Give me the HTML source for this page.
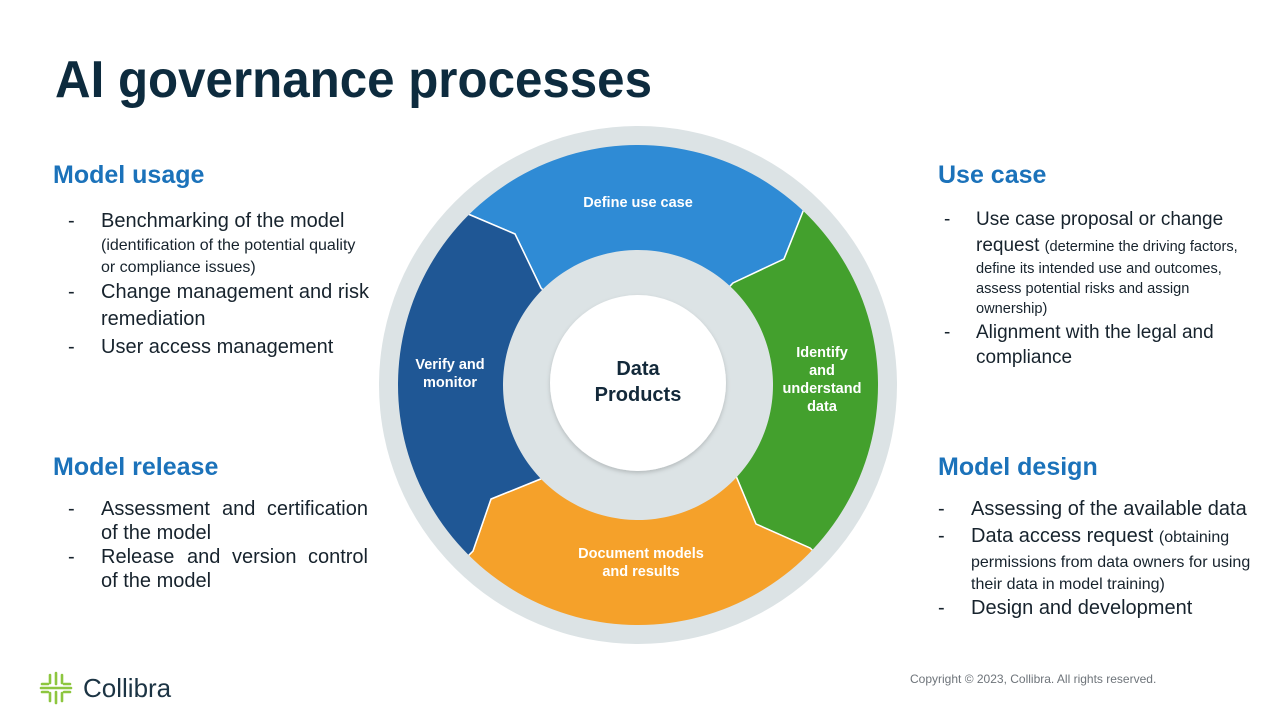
<!DOCTYPE html>
<html><head><meta charset="utf-8"><style>
html,body{margin:0;padding:0;background:#fff;width:1280px;height:720px;overflow:hidden}
svg{display:block;position:absolute;left:0;top:0}
text{font-family:"Liberation Sans",Arial,sans-serif}
.h{font-size:25px;font-weight:bold;fill:#1B72BA}
.b{font-size:20px;fill:#17232D}
.s{font-size:16px;fill:#17232D}
.b2{font-size:19px;fill:#17232D}
.s2{font-size:14.6px;fill:#17232D}
.w{font-size:14.5px;font-weight:bold;fill:#fff}
</style></head><body>
<svg width="1280" height="720" viewBox="0 0 1280 720">
<defs>
<clipPath id="ann"><path clip-rule="evenodd" d="M638,145 a240,240 0 1,0 0.01,0 Z M638,250 a135,135 0 1,0 0.01,0 Z"/></clipPath>
<filter id="sh" x="-20%" y="-20%" width="140%" height="140%"><feDropShadow dx="0" dy="2" stdDeviation="2" flood-color="#000" flood-opacity="0.18"/></filter>
</defs>
<text x="55" y="97" font-size="52" font-weight="bold" fill="#0D2B3E" textLength="597" lengthAdjust="spacingAndGlyphs">AI governance processes</text>

<circle cx="638" cy="385" r="259" fill="#DCE3E5"/>
<g clip-path="url(#ann)" stroke="#fff" stroke-width="1.5" stroke-linejoin="round">
<polygon fill="#2F8BD5" points="541,288 515,234 468,214 298,43 638,-50 970,33 804,209 784,259 733,283 638,385"/>
<polygon fill="#43A02D" points="733,283 784,259 804,209 970,33 1150,385 982,711 810,548 756,524 736,476 638,385"/>
<polygon fill="#F5A12A" points="736,476 756,524 810,548 982,711 638,820 308,717 473,551 491,499 543,478 638,385"/>
<polygon fill="#1F5795" points="543,478 491,499 473,551 308,717 130,385 298,43 468,214 515,234 541,288 638,385"/>
</g>
<circle cx="638" cy="385" r="134" fill="#DCE3E5"/>
<circle cx="638" cy="383" r="88" fill="#fff" filter="url(#sh)"/>
<text x="638" y="375" text-anchor="middle" font-size="20" font-weight="bold" fill="#13293A">Data</text>
<text x="638" y="401" text-anchor="middle" font-size="20" font-weight="bold" fill="#13293A">Products</text>
<text class="w" x="638" y="207" text-anchor="middle">Define use case</text>
<text class="w" x="450" y="369" text-anchor="middle">Verify and</text>
<text class="w" x="450" y="387" text-anchor="middle">monitor</text>
<text class="w" x="822" y="357" text-anchor="middle">Identify</text>
<text class="w" x="822" y="375" text-anchor="middle">and</text>
<text class="w" x="822" y="393" text-anchor="middle">understand</text>
<text class="w" x="822" y="411" text-anchor="middle">data</text>
<text class="w" x="641" y="558" text-anchor="middle">Document models</text>
<text class="w" x="641" y="576" text-anchor="middle">and results</text>

<!-- Model usage -->
<text class="h" x="53" y="183">Model usage</text>
<text class="b" x="68" y="227">-</text>
<text class="b" x="101" y="227">Benchmarking of the model</text>
<text class="s" x="101" y="250">(identification of the potential quality</text>
<text class="s" x="101" y="272">or compliance issues)</text>
<text class="b" x="68" y="298">-</text>
<text class="b" x="101" y="298">Change management and risk</text>
<text class="b" x="101" y="325">remediation</text>
<text class="b" x="68" y="353">-</text>
<text class="b" x="101" y="353">User access management</text>

<!-- Model release -->
<text class="h" x="53" y="475">Model release</text>
<text class="b" x="68" y="515">-</text>
<text class="b" x="101" y="515">Assessment</text>
<text class="b" x="222" y="515">and</text>
<text class="b" x="368" y="515" text-anchor="end">certification</text>
<text class="b" x="101" y="539">of the model</text>
<text class="b" x="68" y="563">-</text>
<text class="b" x="101" y="563">Release</text>
<text class="b" x="187" y="563">and</text>
<text class="b" x="232" y="563">version</text>
<text class="b" x="368" y="563" text-anchor="end">control</text>
<text class="b" x="101" y="587">of the model</text>

<!-- Use case -->
<text class="h" x="938" y="183">Use case</text>
<text class="b2" x="944" y="225">-</text>
<text class="b2" x="976" y="225">Use case proposal or change</text>
<text class="b2" x="976" y="251">request <tspan font-size="14.6">(determine the driving factors,</tspan></text>
<text class="s2" x="976" y="273">define its intended use and outcomes,</text>
<text class="s2" x="976" y="293">assess potential risks and assign</text>
<text class="s2" x="976" y="313">ownership)</text>
<text class="b2" x="944" y="338">-</text>
<text class="b2" x="976" y="338">Alignment with the legal and</text>
<text class="b2" x="976" y="363">compliance</text>

<!-- Model design -->
<text class="h" x="938" y="475">Model design</text>
<text class="b" x="938" y="515">-</text>
<text class="b" x="971" y="515">Assessing of the available data</text>
<text class="b" x="938" y="542">-</text>
<text class="b" x="971" y="542">Data access request <tspan font-size="16">(obtaining</tspan></text>
<text class="s" x="971" y="567">permissions from data owners for using</text>
<text class="s" x="971" y="589">their data in model training)</text>
<text class="b" x="938" y="614">-</text>
<text class="b" x="971" y="614">Design and development</text>

<text x="910" y="683" font-size="12" fill="#6E747A">Copyright © 2023, Collibra. All rights reserved.</text>

<!-- logo -->
<g stroke="#8DC63F" stroke-width="2.6" stroke-linecap="round">
<line x1="50" y1="675" x2="50" y2="683"/><line x1="56" y1="673" x2="56" y2="684"/><line x1="62" y1="675" x2="62" y2="683"/>
<line x1="50" y1="693" x2="50" y2="701"/><line x1="56" y1="692" x2="56" y2="703"/><line x1="62" y1="693" x2="62" y2="701"/>
<line x1="42" y1="684" x2="48" y2="684"/><line x1="42" y1="692" x2="48" y2="692"/>
<line x1="64" y1="684" x2="70" y2="684"/><line x1="64" y1="692" x2="70" y2="692"/>
<line x1="41" y1="688" x2="71" y2="688"/>
</g>
<text x="83" y="697" font-size="26" fill="#1C3444">Collibra</text>
</svg>
</body></html>
